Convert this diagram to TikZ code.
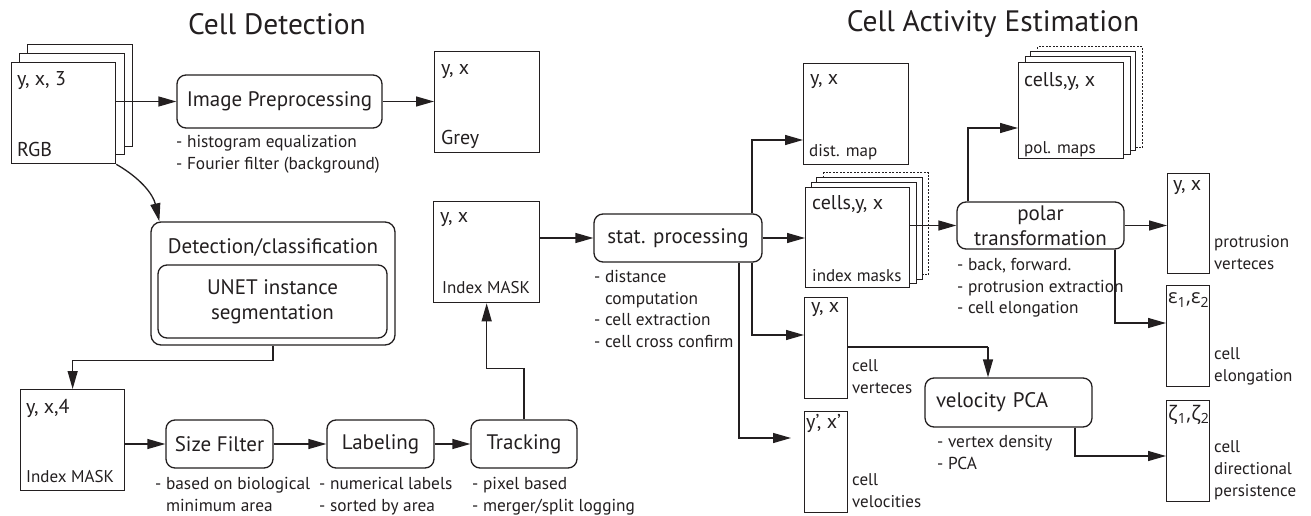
\documentclass[tikz,border=0pt]{standalone}
\usepackage{fontspec}
\setmainfont{PT Sans}
\newfontfamily\greekfont{Open Sans}
\usetikzlibrary{arrows.meta}
\definecolor{ink}{RGB}{35,31,32}
\begin{document}
\begin{tikzpicture}[x=1pt,y=-1pt,
  title/.style={inner sep=0pt, text=ink, font=\fontsize{29.5}{33}\selectfont},
  rbox/.style={draw=ink, line width=1.3pt, rounded corners=9pt, fill=white, inner sep=0pt, text=ink, align=center, font=\fontsize{21}{25}\selectfont},
  dbox/.style={draw=ink, line width=1.3pt, fill=white, inner sep=0pt, anchor=north west},
  dashbox/.style={dbox, dash pattern=on 2pt off 1.5pt},
  toplbl/.style={anchor=west, inner sep=0pt, text=ink, font=\fontsize{20}{23}\selectfont},
  botlbl/.style={anchor=west, inner sep=0pt, text=ink, font=\fontsize{17}{20}\selectfont},
  sidelbl/.style={anchor=north west, inner sep=0pt, align=left, text=ink, font=\fontsize{17}{22}\selectfont},
  note/.style={anchor=north west, inner sep=0pt, align=left, text=ink, font=\fontsize{17.3}{21.6}\selectfont},
  arr/.style={draw=ink, line width=1.3pt, -{Triangle[length=18pt,width=10pt]}},
  ln/.style={draw=ink, line width=1.3pt}
]
\useasboundingbox (0,0) rectangle (1311,516);
\fill[white] (0,0) rectangle (1311,516);

% titles
\node[title] (t1) at (277,24) {Cell Detection};
\node[title] (t2) at (993,24) {Cell Activity Estimation};

% RGB stack
\node[dbox, minimum width=105pt, minimum height=102pt] (rgb3) at (27,44) {};
\node[dbox, minimum width=105pt, minimum height=101pt] (rgb2) at (19,53) {};
\node[dbox, minimum width=104pt, minimum height=101pt] (rgb1) at (11,62) {};
\node[toplbl] (rgbA) at (17,81) {y, x, 3};
\node[toplbl] (rgbB) at (17,150) {RGB};

% image preprocessing
\node[rbox, minimum width=205pt, minimum height=53pt] (pre) at (279.5,101.5) {Image Preprocessing};
\node[note] (preN) at (176,135) {- histogram equalization\\- Fourier filter (background)};
\draw[arr] (rgb1.east |- pre.west) -- (pre.west);

% grey
\node[dbox, minimum width=105pt, minimum height=101pt] (grey) at (434,51) {};
\node[toplbl] (greyA) at (441,72) {y, x};
\node[toplbl] (greyB) at (441,139) {Grey};
\draw[arr] (pre.east) -- (pre.east -| grey.west);

% detection / classification
\node[draw=ink, line width=1.3pt, rounded corners=10pt, minimum width=244pt, minimum height=123pt, inner sep=0pt] (det) at (273,283.5) {};
\node[inner sep=0pt, text=ink, font=\fontsize{21}{25}\selectfont] (detT) at (273,247) {Detection/classification};
\node[rbox, minimum width=229pt, minimum height=73pt] (unet) at (272.5,301.5) {UNET instance\\segmentation};
\draw[arr] (rgb1.south east) to[out=-30,in=103] ([xshift=9pt]det.north west);

% index mask 1
\node[dbox, minimum width=104pt, minimum height=101pt] (idx1) at (20,389) {};
\node[toplbl] (idx1A) at (26,408) {y, x,4};
\node[botlbl] (idx1B) at (26,477) {Index MASK};
\draw[arr] (det.south) -- ++(0,15) -| (idx1.north);

% size filter, labeling, tracking
\node[rbox, minimum width=107pt, minimum height=48pt] (sf) at (219.5,444) {Size Filter};
\node[rbox, minimum width=107pt, minimum height=48pt] (lab) at (380.5,444) {Labeling};
\node[rbox, minimum width=106pt, minimum height=48pt] (trk) at (524,444) {Tracking};
\node[note] (sfN) at (155,477) {- based on biological\\\phantom{- }minimum area};
\node[note] (labN) at (319,477) {- numerical labels\\- sorted by area};
\node[note] (trkN) at (472,477) {- pixel based\\- merger/split logging};
\draw[arr] (idx1.east |- sf.west) -- (sf.west);
\draw[arr] (sf.east) -- (lab.west);
\draw[arr] (lab.east) -- (trk.west);

% index mask 2
\node[dbox, minimum width=106pt, minimum height=101pt] (idx2) at (433,201) {};
\node[toplbl] (idx2A) at (440,220) {y, x};
\node[botlbl] (idx2B) at (442,288) {Index MASK};
\draw[arr] (trk.north) -- ++(0,-51) -| (idx2.south);

% stat processing
\node[rbox, minimum width=168pt, minimum height=48pt] (stat) at (678,238) {stat. processing};
\node[note] (statN) at (594,270) {- distance\\\phantom{- }computation\\- cell extraction\\- cell cross confirm};
\draw[arr] (idx2.east |- stat.west) -- (stat.west);

% dist map
\node[dbox, minimum width=105pt, minimum height=101pt] (dist) at (803,63) {};
\node[toplbl] (distA) at (810,82) {y, x};
\node[botlbl] (distB) at (809,152) {dist. map};
\coordinate (cDist) at (752,140);
\draw[arr] (stat.north -| cDist) -- (cDist) -- (cDist -| dist.west);

% index masks stack
\node[dashbox, minimum width=105pt, minimum height=102pt] (im4) at (823,172) {};
\node[dbox, minimum width=106pt, minimum height=102pt] (im3) at (816,177) {};
\node[dbox, minimum width=105pt, minimum height=101pt] (im2) at (811,182) {};
\node[dbox, minimum width=104pt, minimum height=100pt] (im1) at (805,187) {};
\node[toplbl] (im1A) at (812,205) {cells,y, x};
\node[botlbl] (im1B) at (812,276) {index masks};
\draw[arr] (stat.east) -- (stat.east -| im1.west);

% cell verteces
\node[dbox, minimum width=43pt, minimum height=101pt] (cv) at (804,297) {};
\node[toplbl] (cvA) at (811,310) {y, x};
\node[sidelbl] (cvB) at (852,359) {cell\\verteces};
\coordinate (cCv) at (752,335);
\draw[arr] (stat.south -| cCv) -- (cCv) -- (cCv -| cv.west);

% cell velocities
\node[dbox, minimum width=43pt, minimum height=101pt] (vel) at (804,411) {};
\node[toplbl] (velA) at (806,423) {y’, x’};
\node[sidelbl] (velB) at (852,473) {cell\\velocities};
\coordinate (cVel) at (739,438);
\draw[arr, shorten >=13pt] (stat.south -| cVel) -- (cVel) -- (cVel -| vel.west);

% polar transformation
\node[rbox, minimum width=167pt, minimum height=47pt, font=\fontsize{21}{25}\selectfont] (pol) at (1040.5,225.5) {polar\\transformation};
\node[note] (polN) at (957,258) {- back, forward.\\- protrusion extraction\\- cell elongation};
\draw[arr] (im1.east |- pol.west) -- (pol.west);

% pol maps stack
\node[dashbox, minimum width=105pt, minimum height=101pt] (pm4) at (1037,46) {};
\node[dbox, minimum width=105pt, minimum height=99pt] (pm3) at (1030,51) {};
\node[dbox, minimum width=105pt, minimum height=98pt] (pm2) at (1025,56) {};
\node[dbox, minimum width=105pt, minimum height=96pt] (pm1) at (1018,62) {};
\node[toplbl] (pm1A) at (1024,82) {cells,y, x};
\node[botlbl] (pm1B) at (1024,149) {pol. maps};
\coordinate (cPm) at (968,128);
\draw[arr] (pol.north -| cPm) -- (cPm) -- (cPm -| pm1.west);

% protrusion verteces
\node[dbox, minimum width=42pt, minimum height=100pt] (prot) at (1167,173) {};
\node[toplbl] (protA) at (1173,188) {y, x};
\node[sidelbl] (protB) at (1214,235) {protrusion\\verteces};
\draw[arr] (pol.east) -- (pol.east -| prot.west);

% elongation
\node[dbox, minimum width=43pt, minimum height=101pt] (eps) at (1166,285) {};
\node[toplbl] (epsA) at (1168,300) {\greekfont ε\textsubscript{1},ε\textsubscript{2}};
\node[sidelbl] (epsB) at (1214,347) {cell\\elongation};
\coordinate (cEps) at (1115,323);
\draw[arr] (pol.south -| cEps) -- (cEps) -- (cEps -| eps.west);

% velocity PCA
\node[rbox, minimum width=167pt, minimum height=49pt, text width=145pt, align=left] (vpca) at (1008.5,402.5) {velocity PCA};
\node[note] (vpcaN) at (937,435) {- vertex density\\- PCA};
\coordinate (cV1) at (988,347);
\draw[ln] (cv.east |- cV1) -- (cV1);
\draw[arr] (cV1) -- (cV1 |- vpca.north);

% directional persistence
\node[dbox, minimum width=43pt, minimum height=101pt] (zeta) at (1166,400) {};
\node[toplbl] (zetaA) at (1168,415) {\greekfont ζ\textsubscript{1},ζ\textsubscript{2}};
\node[sidelbl] (zetaB) at (1214,440) {cell\\directional\\persistence};
\coordinate (cZ) at (1075,456);
\draw[arr] (vpca.south -| cZ) -- (cZ) -- (cZ -| zeta.west);
\end{tikzpicture}
\end{document}
